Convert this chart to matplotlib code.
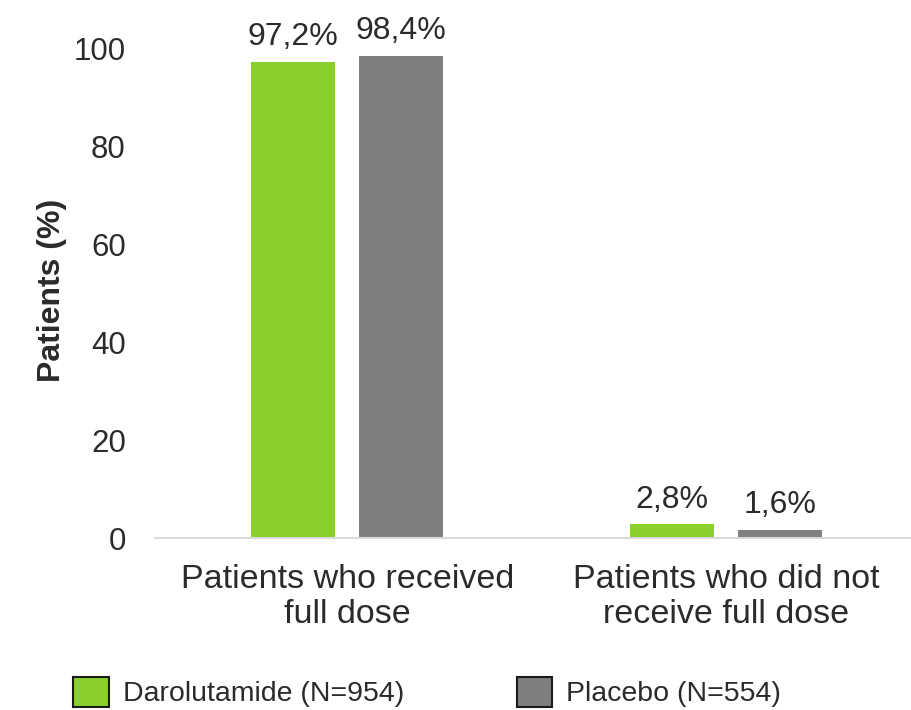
import matplotlib
matplotlib.use("Agg")
import matplotlib.pyplot as plt
import numpy as np

categories = ["Patients who received\nfull dose", "Patients who did not\nreceive full dose"]
series_names = ["Darolutamide (N=954)", "Placebo (N=554)"]
darolutamide = [97.2, 2.8]
placebo = [98.4, 1.6]
value_labels = [["97,2%", "2,8%"], ["98,4%", "1,6%"]]
yticks = [0, 20, 40, 60, 80, 100]

colors = ["#89d12a", "#7f7f7f"]
text_color = "#2b2b2b"

plt.rcParams["font.family"] = ["Liberation Sans", "DejaVu Sans"]

fig = plt.figure(figsize=(9.11, 7.10), dpi=100)
ax = fig.add_axes([155 / 911, 172 / 710, 756 / 911, 490 / 710])

x = np.arange(len(categories))
width = 0.222
offset = 0.1425

for i, (vals, c) in enumerate(zip([darolutamide, placebo], colors)):
    pos = x + (offset if i else -offset)
    bars = ax.bar(pos, vals, width, color=c, label=series_names[i])
    for bar, lbl in zip(bars, value_labels[i]):
        ax.annotate(lbl, (bar.get_x() + bar.get_width() / 2, bar.get_height()),
                    xytext=(0, 7), textcoords="offset points",
                    ha="center", va="bottom", fontsize=23, color=text_color,
                    annotation_clip=False)

ax.set_xlim(-0.507, 1.488)
ax.set_ylim(0, 100)
ax.set_yticks(yticks)
ax.set_xticks(x)
ax.set_xticklabels(categories, fontsize=24.5, color=text_color, linespacing=1.15)
ax.tick_params(axis="y", length=0, pad=21, labelsize=22.5, labelcolor=text_color)
ax.tick_params(axis="x", length=0, pad=19)

for s in ["top", "right", "left"]:
    ax.spines[s].set_visible(False)
ax.spines["bottom"].set_color("#d9d9d9")
ax.spines["bottom"].set_linewidth(1.5)

ax.set_ylabel("Patients (%)", fontsize=23, fontweight="bold", color=text_color)
ax.yaxis.set_label_coords(-0.117, 0.506)

fig.legend(loc="center left", bbox_to_anchor=(73 / 911, 1 - 692 / 710), ncol=2,
           frameon=False, fontsize=20.5, handlelength=1.25, handleheight=1.25,
           handletextpad=0.5, columnspacing=3.95, borderpad=0, borderaxespad=0,
           labelcolor=text_color)
for h in fig.legends[0].legend_handles:
    h.set_edgecolor("#1a1a1a")
    h.set_linewidth(1.5)

fig.savefig("out.png", dpi=100)
plt.close(fig)
